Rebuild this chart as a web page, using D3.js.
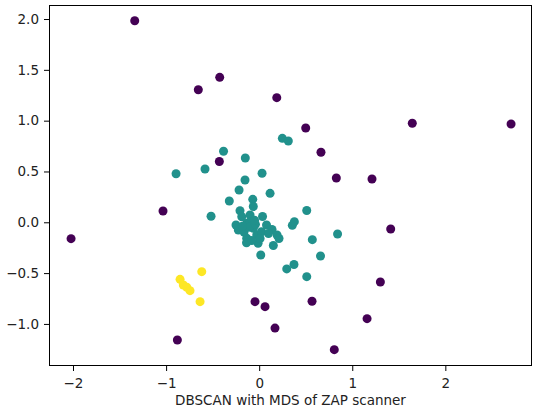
<!DOCTYPE html>
<html>
<head>
<meta charset="utf-8">
<script src="https://cdn.jsdelivr.net/npm/d3@7"></script>
<style>
  body { margin: 0; background: #fff; }
  svg { display: block; font-family: "DejaVu Sans", sans-serif; }
</style>
</head>
<body>
<div id="chart"></div>
<script>
// cluster labels from DBSCAN: -1 = noise, 0, 1
var noisePoints = [
  [-1.337, 1.983], [-0.654, 1.304], [-0.424, 1.426], [0.189, 1.226],
  [0.500, 0.928], [1.645, 0.974], [2.706, 0.967], [0.664, 0.689],
  [0.829, 0.436], [1.212, 0.426], [-0.428, 0.598], [-1.033, 0.111],
  [-2.021, -0.161], [1.413, -0.066], [1.302, -0.587], [-0.045, -0.781],
  [0.063, -0.830], [0.568, -0.777], [1.159, -0.948], [0.170, -1.041],
  [-0.879, -1.158], [0.807, -1.253]
];
var cluster0 = [
  [0.249, 0.826], [0.313, 0.800], [-0.893, 0.478], [-0.582, 0.524],
  [-0.383, 0.699], [-0.149, 0.633], [0.031, 0.482], [-0.152, 0.416],
  [-0.216, 0.318], [0.117, 0.285], [-0.321, 0.210], [-0.069, 0.226],
  [-0.517, 0.060], [0.511, 0.116], [-0.063, 0.155], [-0.206, 0.114],
  [-0.187, 0.055], [-0.098, 0.072], [0.036, 0.057], [-0.134, -0.010],
  [-0.224, -0.076], [-0.063, -0.059], [0.079, -0.027], [0.138, -0.071],
  [0.192, -0.125], [0.213, -0.159], [-0.134, -0.157], [-0.026, -0.125],
  [-0.136, -0.201], [-0.012, -0.207], [0.152, -0.228], [0.025, -0.093],
  [0.356, -0.030], [0.378, 0.006], [0.571, -0.171], [0.842, -0.115],
  [0.017, -0.322], [0.659, -0.332], [0.296, -0.459], [0.374, -0.415],
  [0.511, -0.535], [-0.249, -0.027], [-0.163, -0.095], [-0.098, 0.003],
  [-0.110, -0.050], [-0.040, -0.020], [0.010, -0.160], [-0.080, -0.180],
  [0.100, -0.110], [-0.180, -0.040], [-0.050, 0.020]
];
var cluster1 = [
  [-0.617, -0.486], [-0.850, -0.561], [-0.815, -0.617],
  [-0.778, -0.639], [-0.743, -0.673], [-0.635, -0.781]
];
var xTicks = [-2, -1, 0, 1, 2];
var yTicks = [-1.0, -0.5, 0.0, 0.5, 1.0, 1.5, 2.0];
var xLabel = 'DBSCAN with MDS of ZAP scanner';

var w = 533, h = 414;
var margin = { top: 5, right: 1, bottom: 48, left: 49 };
var fontSize = '13.5px';

var x = d3.scaleLinear()
    .domain([-2.258, 2.931])
    .range([margin.left, w - margin.right]);
var y = d3.scaleLinear()
    .domain([-1.414, 2.138])
    .range([h - margin.bottom, margin.top]);

var svg = d3.select('#chart')
    .append('svg')
    .attr('width', w)
    .attr('height', h);

var minus = function(s) { return s.replace('-', '\u2212'); };

// points
var groups = [
  { pts: noisePoints, color: '#440154' },
  { pts: cluster0, color: '#21918c' },
  { pts: cluster1, color: '#fde725' }
];
groups.forEach(function(g) {
  svg.append('g').selectAll('circle')
      .data(g.pts)
      .enter()
      .append('circle')
        .attr('cx', function(d) { return x(d[0]); })
        .attr('cy', function(d) { return y(d[1]); })
        .attr('r', 4.5)
        .attr('fill', g.color);
});

// axes
var xAxis = svg.append('g')
    .attr('transform', 'translate(0,' + (h - margin.bottom) + ')')
    .call(d3.axisBottom(x).tickValues(xTicks).tickSize(5).tickPadding(7).tickSizeOuter(0)
      .tickFormat(function(d) { return minus(d3.format('d')(d)); }));
var yAxis = svg.append('g')
    .attr('transform', 'translate(' + margin.left + ',0)')
    .call(d3.axisLeft(y).tickValues(yTicks).tickSize(5).tickPadding(5).tickSizeOuter(0)
      .tickFormat(function(d) { return minus(d3.format('.1f')(d)); }));

[xAxis, yAxis].forEach(function(a) {
  a.select('.domain').remove();
  a.selectAll('.tick line').attr('stroke', '#000').attr('stroke-width', 1);
  a.selectAll('.tick text')
      .attr('font-family', 'DejaVu Sans')
      .attr('font-size', fontSize)
      .attr('fill', '#222');
});

// frame
svg.append('rect')
    .attr('x', margin.left + 0.5)
    .attr('y', margin.top + 0.5)
    .attr('width', w - margin.left - margin.right - 1)
    .attr('height', h - margin.top - margin.bottom - 1)
    .attr('fill', 'none')
    .attr('stroke', '#000')
    .attr('stroke-width', 1);

svg.append('text')
    .attr('x', (margin.left + w - margin.right) / 2)
    .attr('y', 405)
    .attr('text-anchor', 'middle')
    .attr('font-size', fontSize)
    .attr('fill', '#222')
    .text(xLabel);
</script>
</body>
</html>
